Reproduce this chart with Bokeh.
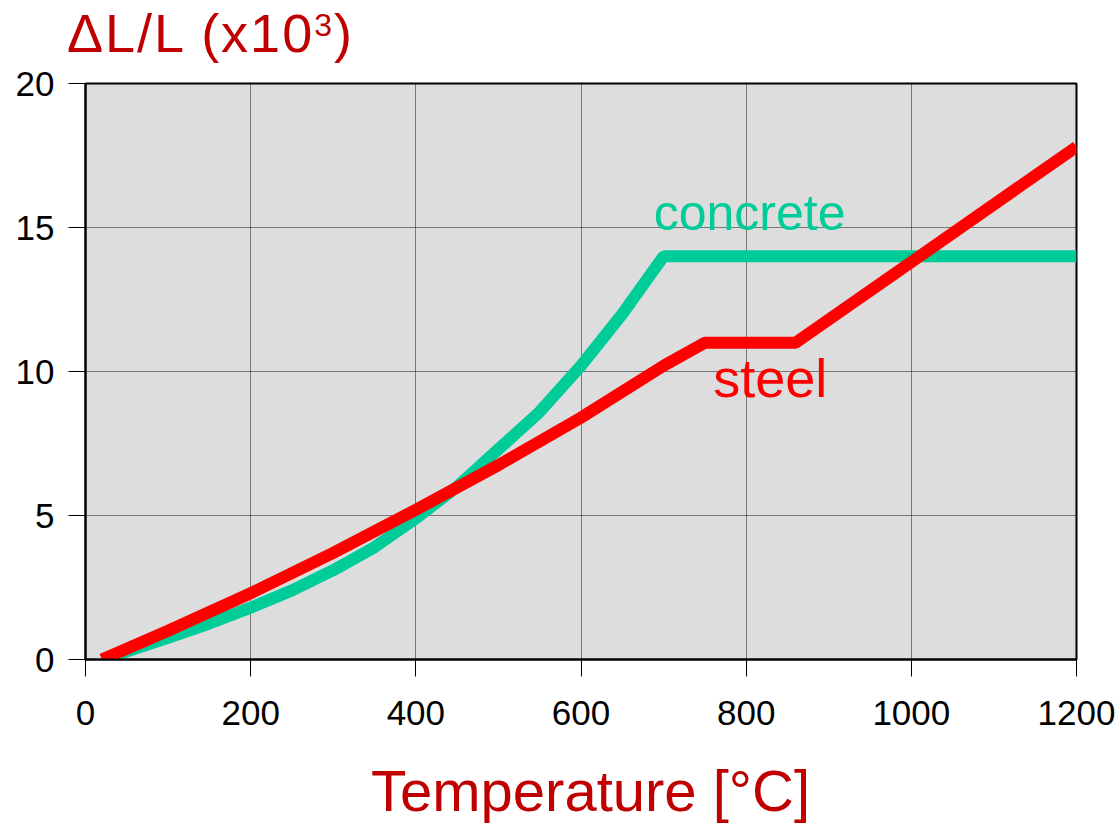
from bokeh.plotting import figure
from bokeh.models import Range1d, FixedTicker, Label, Div
from bokeh.layouts import column
from bokeh.embed import file_html
from bokeh.resources import INLINE

# data
concrete_t = [20, 100, 150, 200, 250, 300, 350, 400, 450, 500, 550, 600, 650, 700, 1200]
concrete_e = [0.0, 0.75, 1.25, 1.8, 2.4, 3.1, 3.9, 4.9, 6.0, 7.3, 8.6, 10.2, 12.0, 14.0, 14.0]

steel_t = [20, 100, 200, 300, 400, 500, 600, 700, 750, 860, 1200]
steel_e = [0.0, 1.0, 2.3, 3.7, 5.2, 6.75, 8.4, 10.2, 11.0, 11.0, 17.8]

x_ticks = [0, 200, 400, 600, 800, 1000, 1200]
y_ticks = [0, 5, 10, 15, 20]

x_label = "Temperature [°C]"

FONT = "Liberation Sans"
DARKRED = "#C00000"
W = 1115

title_div = Div(
    text=('<div style="font-family:\'Liberation Sans\';font-size:54px;color:#C00000;'
          'line-height:60px;letter-spacing:2px;white-space:nowrap;margin:0;'
          'padding:3px 0 0 67px;">ΔL/L (x10<span style="font-size:32px;line-height:0;'
          'vertical-align:16px;">3</span>)</div>'),
    width=W, height=63, margin=0)

p = figure(width=W, height=686, output_backend="svg", toolbar_location=None,
           x_range=Range1d(0, 1200), y_range=Range1d(0, 20), margin=0,
           min_border_left=85, min_border_right=39, min_border_top=20, min_border_bottom=90)

p.background_fill_color = "#DDDDDD"
p.border_fill_color = "white"
p.outline_line_color = "black"
p.outline_line_width = 2

for ax in (p.xaxis[0], p.yaxis[0]):
    ax.axis_line_color = "black"
    ax.axis_line_width = 2
    ax.major_tick_line_color = "black"
    ax.major_tick_line_width = 1
    ax.major_tick_out = 17
    ax.major_tick_in = 0
    ax.minor_tick_line_color = None
    ax.major_label_text_font = FONT
    ax.major_label_text_font_size = "35px"
    ax.major_label_text_color = "black"

p.xaxis.ticker = FixedTicker(ticks=x_ticks)
p.yaxis.ticker = FixedTicker(ticks=y_ticks)
p.xaxis.major_label_standoff = 24
p.yaxis.major_label_standoff = 14

p.xgrid.ticker = FixedTicker(ticks=x_ticks)
p.ygrid.ticker = FixedTicker(ticks=y_ticks)
p.grid.grid_line_color = "#111111"
p.grid.grid_line_width = 1
p.grid.grid_line_dash = "1 1"

p.line(concrete_t, concrete_e, line_color="#00CC99", line_width=12)
p.line(steel_t, steel_e, line_color="#FF0000", line_width=12)

p.add_layout(Label(x=688, y=15.5, text="concrete", text_font=FONT, text_font_size="50px",
                   text_color="#00CC99", text_align="left", text_baseline="alphabetic"))
p.add_layout(Label(x=760, y=9.76, text="steel", text_font=FONT, text_font_size="54px",
                   text_color="#FF0000", text_align="left", text_baseline="alphabetic"))

xlabel_div = Div(
    text=('<div style="font-family:\'Liberation Sans\';font-size:58px;color:#C00000;'
          'line-height:66px;white-space:nowrap;margin:0;padding:9px 0 0 371px;">'
          + x_label + '</div>'),
    width=W, height=75, margin=0)

layout = column(title_div, p, xlabel_div, spacing=0)

open("out.html", "w").write(file_html(layout, INLINE))
